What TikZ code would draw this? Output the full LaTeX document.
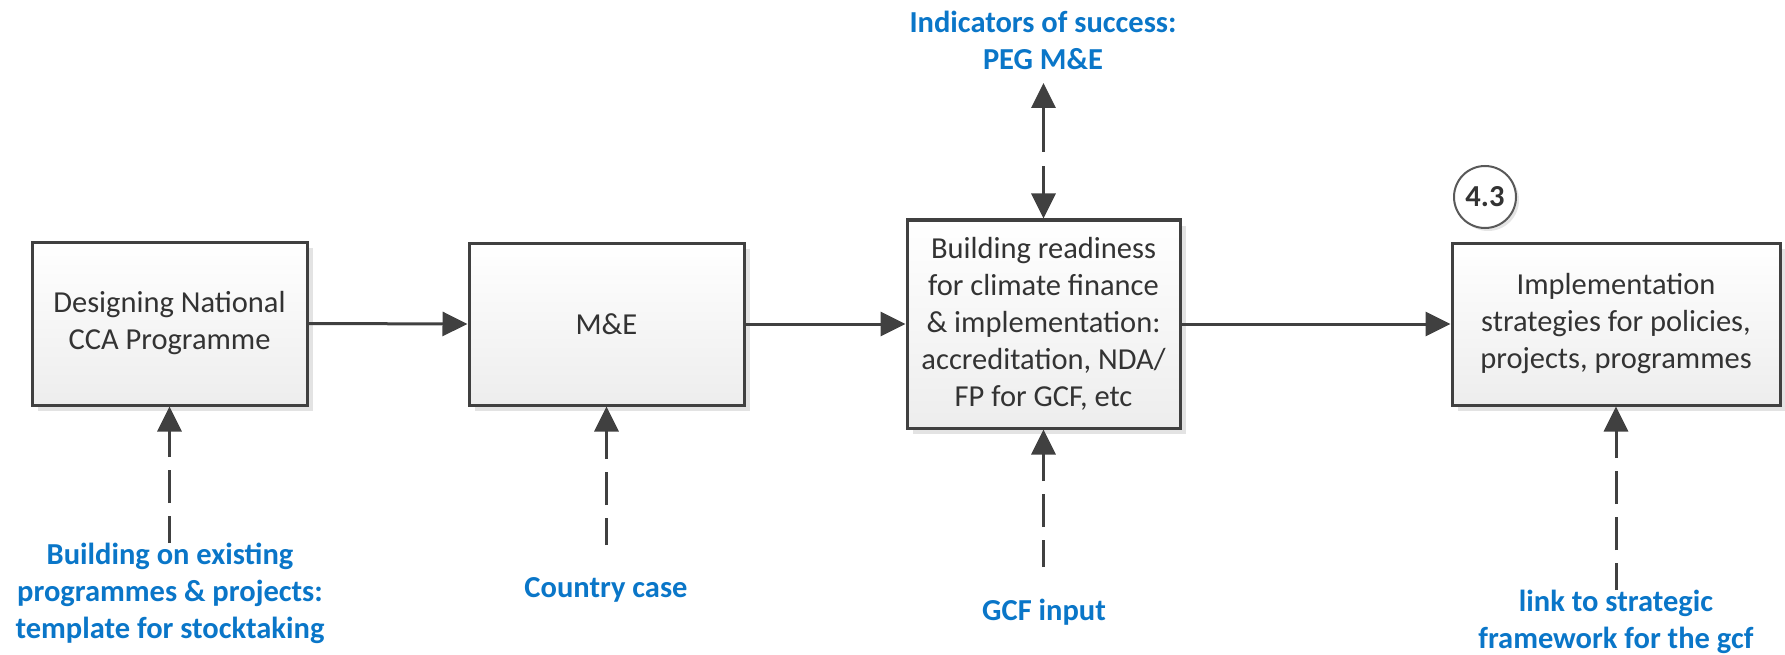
\documentclass[tikz,border=0pt]{standalone}
\usepackage{fontspec}
\setmainfont{Carlito}
\usetikzlibrary{arrows.meta,shadows}
\definecolor{edgegray}{HTML}{404040}
\definecolor{txtgray}{HTML}{333333}
\definecolor{lblue}{RGB}{10,118,200}
\tikzset{
  procbox/.style={draw=edgegray, line width=3pt, top color=white, bottom color=black!7,
    text=txtgray, align=center, font=\fontsize{30.5}{37}\selectfont,
    drop shadow={shadow xshift=6pt, shadow yshift=-6pt, fill=black!11, opacity=1}},
  bluelbl/.style={text=lblue, align=center, font=\bfseries\fontsize{30.5}{37}\selectfont, inner sep=0pt},
  conn/.style={draw=edgegray, line width=3pt, -{Triangle[length=25pt,width=24pt]}},
  dconn/.style={conn, dash pattern=on 33pt off 13pt, dash phase=6pt},
  stepnum/.style={circle, draw=black!65, line width=2pt, fill=white, minimum size=62pt, inner sep=0pt,
    text=txtgray, font=\bfseries\fontsize{30.5}{37}\selectfont,
    drop shadow={shadow xshift=3pt, shadow yshift=-3pt, fill=black!10, opacity=1}}
}
\begin{document}
\begin{tikzpicture}[x=1pt,y=-1pt]
\useasboundingbox (0,0) rectangle (1785,655);
% boxes
\node[procbox, minimum width=275pt, minimum height=163pt] (b1) at (169.5,323.5) {Designing National\\CCA Programme};
\node[procbox, minimum width=275pt, minimum height=162pt] (b2) at (606.5,324) {M\&E};
\node[procbox, minimum width=273pt, minimum height=208pt] (b3) at (1043.5,324) {Building readiness\\for climate finance\\\& implementation:\\accreditation, NDA/\\FP for GCF, etc};
\node[procbox, minimum width=328pt, minimum height=162pt] (b4) at (1616,324) {Implementation\\strategies for policies,\\projects, programmes};
\node[stepnum] (n43) at (1485,197) {4.3};
% labels
\node[bluelbl] (ind) at (1043,40) {Indicators of success:\\PEG M\&E};
\node[bluelbl] (bld) at (170,593) {Building on existing\\programmes \& projects:\\template for stocktaking};
\node[bluelbl] (cty) at (606,590) {Country case};
\node[bluelbl] (gcf) at (1044,612) {GCF input};
\node[bluelbl] (lnk) at (1616,622) {link to strategic\\framework for the gcf};
% free ends
\coordinate (e1) at (169.5,543);
\coordinate (e2) at (606.5,545);
\coordinate (e3) at (1043.5,567);
\coordinate (e4) at (1616,590);
\coordinate (etop) at (1043.5,83);
% connectors
\draw[conn] (b1.east) -- (b2.west);
\draw[conn] (b2.east) -- (b3.west);
\draw[conn] (b3.east) -- (b4.west);
\draw[dconn] (e1) -- (b1.south);
\draw[dconn] (e2) -- (b2.south);
\draw[dconn] (e3) -- (b3.south);
\draw[dconn] (e4) -- (b4.south);
\draw[conn, {Triangle[length=25pt,width=24pt]}-{Triangle[length=25pt,width=24pt]}, dash pattern=on 45pt off 14pt on 200pt off 0pt] (etop) -- (b3.north);
\end{tikzpicture}
\end{document}
